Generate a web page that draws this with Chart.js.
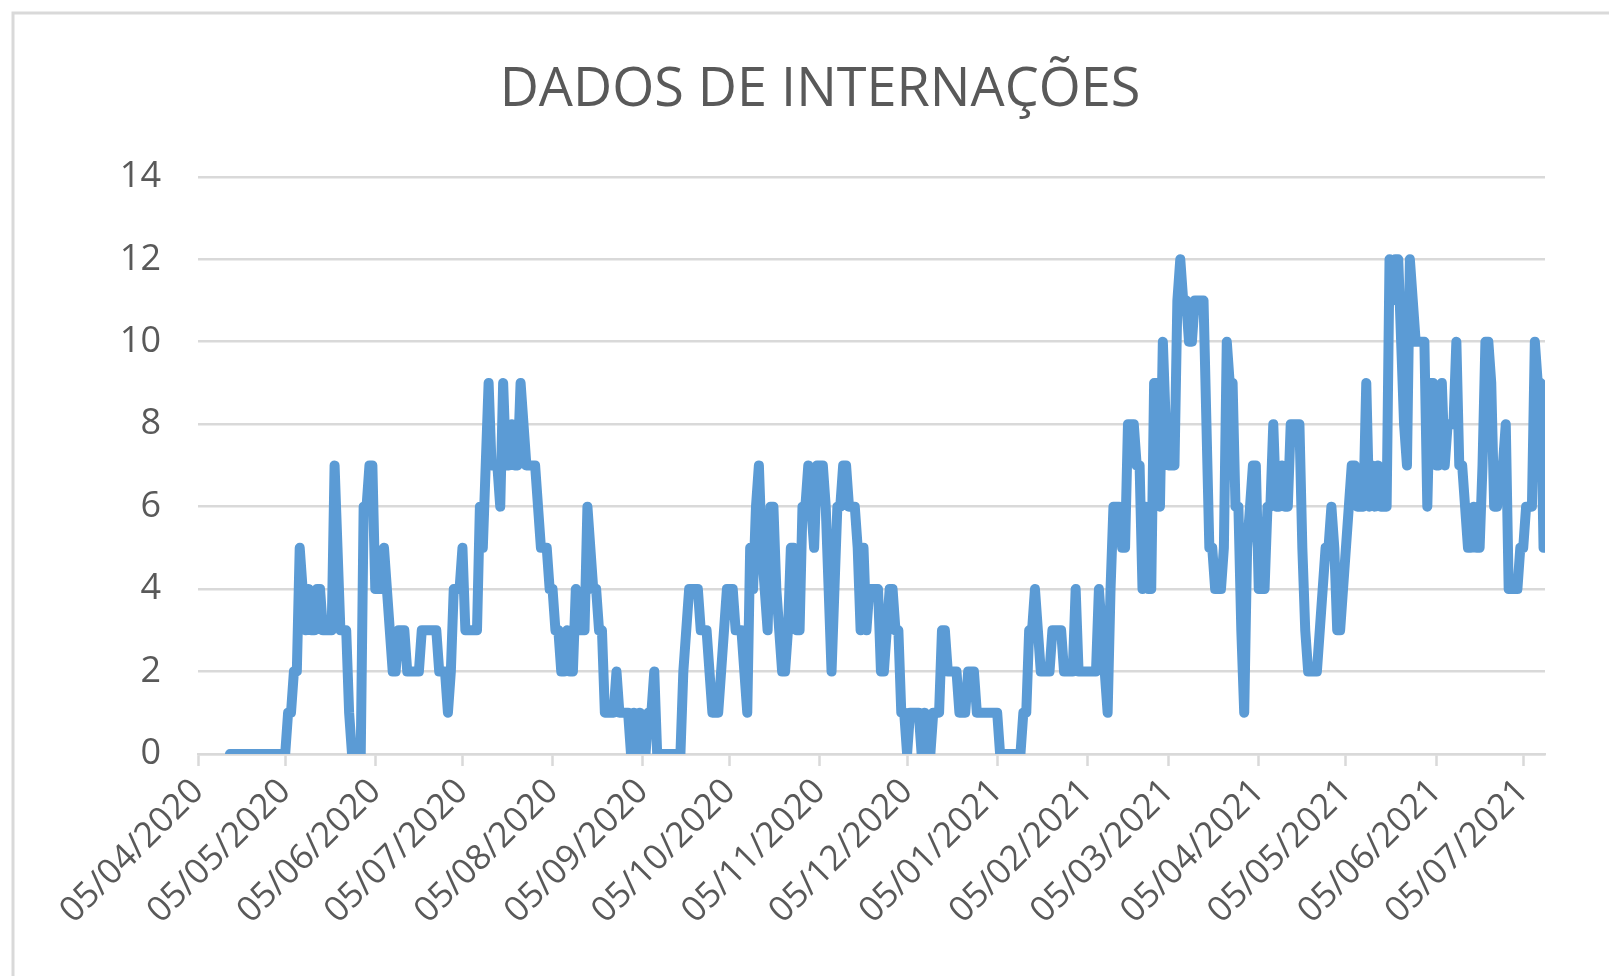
<!DOCTYPE html>
<html lang="pt-BR">
<head>
<meta charset="UTF-8">
<title>Dados de Internações</title>
<script src="https://cdn.jsdelivr.net/npm/chart.js"></script>
<style>
  html, body { margin: 0; padding: 0; background: #fff; }
</style>
</head>
<body>
<canvas id="chart" width="1609" height="976"></canvas>
<script>
// primeiro dia com registro
const primeiroDia = '16/04/2020';

// internações por dia, a partir de primeiroDia
const internacoes = [
    0, 0, 0, 0, 0, 0, 0, 0, 0, 0,
    0, 0, 0, 0, 0, 0, 0, 0, 0, 0,
    1, 1, 2, 2, 5, 4, 3, 4, 3, 3,
    4, 4, 3, 3, 3, 3, 7, 5, 3, 3,
    3, 1, 0, 0, 0, 0, 6, 6, 7, 7,
    4, 4, 4, 5, 4, 3, 2, 2, 3, 3,
    3, 2, 2, 2, 2, 2, 3, 3, 3, 3,
    3, 3, 2, 2, 2, 1, 2, 4, 4, 4,
    5, 3, 3, 3, 3, 3, 6, 5, 7, 9,
    7, 7, 7, 6, 9, 7, 7, 8, 7, 7,
    9, 8, 7, 7, 7, 7, 6, 5, 5, 5,
    4, 4, 3, 3, 2, 2, 3, 2, 2, 4,
    3, 3, 3, 6, 5, 4, 4, 3, 3, 1,
    1, 1, 1, 2, 1, 1, 1, 1, 0, 1,
    0, 1, 0, 0, 1, 1, 2, 0, 0, 0,
    0, 0, 0, 0, 0, 0, 2, 3, 4, 4,
    4, 4, 3, 3, 3, 2, 1, 1, 1, 2,
    3, 4, 4, 4, 3, 3, 3, 2, 1, 5,
    4, 6, 7, 5, 4, 3, 6, 6, 4, 3,
    2, 2, 3, 5, 5, 3, 3, 6, 6, 7,
    6, 5, 7, 7, 7, 6, 4, 2, 4, 6,
    6, 7, 7, 6, 6, 6, 5, 3, 5, 3,
    4, 4, 4, 4, 2, 2, 3, 4, 4, 3,
    3, 1, 1, 0, 1, 1, 1, 1, 0, 1,
    0, 0, 1, 1, 1, 3, 3, 2, 2, 2,
    2, 1, 1, 1, 2, 2, 2, 1, 1, 1,
    1, 1, 1, 1, 1, 0, 0, 0, 0, 0,
    0, 0, 0, 1, 1, 3, 3, 4, 3, 2,
    2, 2, 2, 3, 3, 3, 3, 2, 2, 2,
    2, 4, 2, 2, 2, 2, 2, 2, 2, 4,
    3, 2, 1, 4, 6, 6, 6, 5, 5, 8,
    8, 8, 7, 7, 4, 6, 4, 4, 9, 9,
    6, 10, 8, 7, 7, 7, 11, 12, 11, 11,
    10, 10, 11, 11, 11, 11, 8, 5, 5, 4,
    4, 4, 5, 10, 9, 9, 6, 6, 3, 1,
    5, 6, 7, 7, 4, 4, 4, 6, 6, 8,
    6, 6, 7, 6, 6, 8, 8, 8, 8, 5,
    3, 2, 2, 2, 2, 3, 4, 5, 5, 6,
    5, 3, 3, 4, 5, 6, 7, 7, 6, 6,
    6, 9, 6, 7, 6, 7, 6, 6, 6, 12,
    11, 12, 12, 10, 8, 7, 12, 11, 10, 10,
    10, 10, 6, 9, 9, 7, 7, 9, 7, 8,
    8, 8, 10, 7, 7, 6, 5, 5, 6, 5,
    5, 7, 10, 10, 9, 6, 6, 7, 7, 8,
    4, 4, 4, 4, 5, 5, 6, 6, 6, 10,
    9, 9, 5
];

// marcas do eixo X (uma por mês)
const rotulosX = [
    '05/04/2020', '05/05/2020', '05/06/2020', '05/07/2020',
    '05/08/2020', '05/09/2020', '05/10/2020', '05/11/2020',
    '05/12/2020', '05/01/2021', '05/02/2021', '05/03/2021',
    '05/04/2021', '05/05/2021', '05/06/2021', '05/07/2021'
];

// dias desde 01/01/1970
function diaDe(texto) {
    const [d, m, a] = texto.split('/').map(Number);
    return Date.UTC(a, m - 1, d) / 86400000;
}

const origem = diaDe(rotulosX[0]);
const inicio = diaDe(primeiroDia) - origem;
const posicoesX = rotulosX.map(r => diaDe(r) - origem);
const pontos = internacoes.map((v, i) => ({ x: inicio + i, y: v }));
const ultimoDia = inicio + internacoes.length - 1;

const cinza = '#595959';
const linhaGrade = '#d9d9d9';

// fundo branco e moldura do gráfico
const moldura = {
    id: 'moldura',
    beforeDraw(chart) {
        const c = chart.ctx;
        c.save();
        c.fillStyle = '#ffffff';
        c.fillRect(0, 0, chart.width, chart.height);
        c.strokeStyle = linhaGrade;
        c.lineWidth = 3;
        c.strokeRect(13, 13, chart.width + 40, chart.height + 40);
        c.restore();
    }
};

const ctx = document.getElementById('chart').getContext('2d');
new Chart(ctx, {
    type: 'line',
    data: {
        datasets: [{
            label: 'Internações',
            data: pontos,
            borderColor: '#5b9bd5',
            backgroundColor: '#5b9bd5',
            borderWidth: 10,
            borderJoinStyle: 'round',
            borderCapStyle: 'round',
            pointRadius: 0,
            tension: 0,
            fill: false
        }]
    },
    options: {
        responsive: false,
        animation: false,
        devicePixelRatio: 1,
        layout: {
            padding: { left: 95, right: 64, top: 0, bottom: 0 }
        },
        plugins: {
            legend: { display: false },
            tooltip: { enabled: false },
            title: {
                display: true,
                text: 'DADOS DE INTERNAÇÕES',
                color: cinza,
                font: { family: 'Open Sans', size: 54, weight: 'normal' },
                padding: { top: 58, bottom: 54 }
            }
        },
        scales: {
            x: {
                type: 'linear',
                min: 0,
                max: ultimoDia + 0.5,
                afterBuildTicks: axis => {
                    axis.ticks = posicoesX.map(v => ({ value: v }));
                },
                afterFit: axis => { axis.height = 222; },
                grid: {
                    drawOnChartArea: false,
                    drawTicks: true,
                    tickLength: 12,
                    tickWidth: 2.5,
                    tickColor: linhaGrade
                },
                border: { display: true, color: linhaGrade, width: 2.5 },
                ticks: {
                    autoSkip: false,
                    maxRotation: 45,
                    minRotation: 45,
                    padding: 5,
                    color: cinza,
                    font: { family: 'Open Sans', size: 35 },
                    callback: value => {
                        const i = posicoesX.indexOf(value);
                        return i >= 0 ? rotulosX[i] : '';
                    }
                }
            },
            y: {
                min: 0,
                max: 14,
                afterFit: axis => { axis.width = 103; },
                grid: { color: linhaGrade, lineWidth: 2.5, drawTicks: false },
                border: { display: false },
                ticks: {
                    stepSize: 2,
                    padding: 37,
                    color: cinza,
                    font: { family: 'Open Sans', size: 36 }
                }
            }
        }
    },
    plugins: [moldura]
});
</script>
</body>
</html>
